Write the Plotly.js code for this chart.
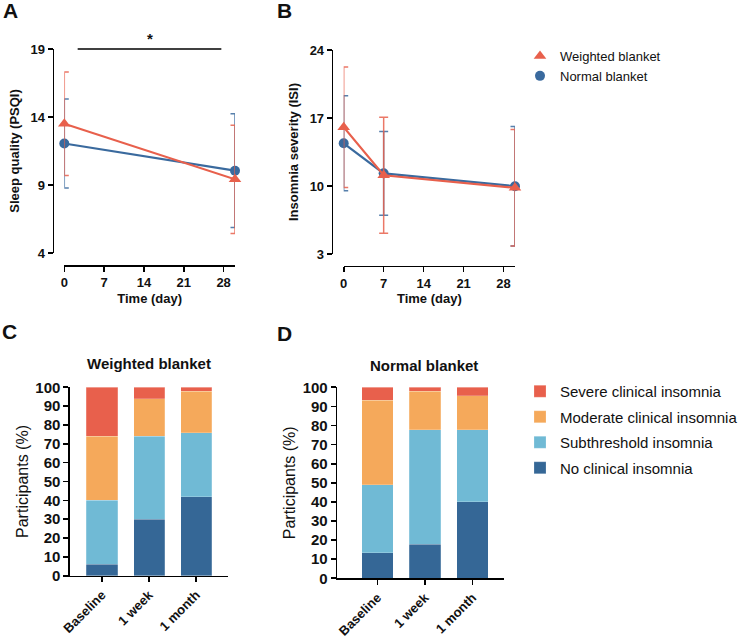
<!DOCTYPE html>
<html>
<head>
<meta charset="utf-8">
<script src="https://cdn.plot.ly/plotly-3.0.1.min.js"></script>
<style>html,body{margin:0;padding:0;background:#fff;}#chart{width:744px;height:640px;}</style>
</head>
<body>
<div id="chart"></div>
<script>
// ---- Data ----
const daysA = [0, 30];
const psqiWeighted = [13.5, 9.42];
const psqiWeightedErr = [3.8, 3.98];
const psqiNormal = [12.05, 10.05];
const psqiNormalErr = [3.27, 4.18];

const daysB = [0, 7, 30];
const isiWeighted = [16.05, 11.1, 9.82];
const isiWeightedErr = [6.2, 5.97, 6.0];
const isiNormal = [14.4, 11.3, 9.98];
const isiNormalErr = [4.9, 4.3, 6.15];

const timeTicks = [0, 7, 14, 21, 28];
const stages = ['Baseline', '1 week', '1 month'];
const levels = ['No clinical insomnia', 'Subthreshold insomnia', 'Moderate clinical insomnia', 'Severe clinical insomnia'];
const weightedNone = [6, 30, 42];
const weightedSub = [34, 44, 34];
const weightedMod = [34, 20, 22];
const weightedSev = [26, 6, 2];
const normalNone = [13.3, 17.8, 40];
const normalSub = [35.6, 60, 37.8];
const normalMod = [44.4, 20, 17.8];
const normalSev = [6.7, 2.2, 4.4];

// ---- Styles ----
const RED = '#E8604C', BLUE = '#3A6A9E';
const RED_ERR = 'rgba(232,96,76,0.85)', BLUE_ERR = 'rgba(58,106,158,0.85)';
const levelColors = ['#356796', '#70BAD5', '#F5A95B', '#E8604C'];
const FONT = 'Liberation Sans, Arial, sans-serif';
const W = 744, H = 640;
const px = v => v / W;
const py = v => 1 - v / H;

function lineTrace(x, y, err, color, errColor, symbol, xa, ya, size) {
  return {
    x: x, y: y, xaxis: xa, yaxis: ya, type: 'scatter', mode: 'lines+markers',
    line: {color: color, width: 2.2},
    marker: {color: color, symbol: symbol, size: size},
    error_y: {type: 'data', array: err, visible: true, color: errColor, thickness: 1.5, width: 4.5},
    cliponaxis: false, showlegend: false, hoverinfo: 'x+y'
  };
}

const traces = [
  lineTrace(daysA, psqiNormal, psqiNormalErr, BLUE, BLUE_ERR, 'circle', 'x', 'y', 10),
  lineTrace(daysA, psqiWeighted, psqiWeightedErr, RED, RED_ERR, 'triangle-up', 'x', 'y', 11),
  lineTrace(daysB, isiNormal, isiNormalErr, BLUE, BLUE_ERR, 'circle', 'x2', 'y2', 10),
  lineTrace(daysB, isiWeighted, isiWeightedErr, RED, RED_ERR, 'triangle-up', 'x2', 'y2', 11),
  // legend-only entries (marker only)
  {x: [null], y: [null], type: 'scatter', mode: 'markers', name: 'Weighted blanket',
   marker: {color: RED, symbol: 'triangle-up', size: 11}, legend: 'legend', xaxis: 'x2', yaxis: 'y2'},
  {x: [null], y: [null], type: 'scatter', mode: 'markers', name: 'Normal blanket',
   marker: {color: BLUE, symbol: 'circle', size: 10}, legend: 'legend', xaxis: 'x2', yaxis: 'y2'}
];

const weightedSeries = [weightedNone, weightedSub, weightedMod, weightedSev];
const normalSeries = [normalNone, normalSub, normalMod, normalSev];
weightedSeries.forEach((vals, i) => {
  traces.push({x: stages, y: vals, type: 'bar', xaxis: 'x3', yaxis: 'y3', name: levels[i],
    marker: {color: levelColors[i], line: {width: 0.6, color: 'rgba(255,255,255,0.35)'}}, width: 0.66,
    legend: 'legend2', legendgroup: 'g' + i, legendrank: 4 - i, showlegend: true});
});
normalSeries.forEach((vals, i) => {
  traces.push({x: stages, y: vals, type: 'bar', xaxis: 'x4', yaxis: 'y4', name: levels[i],
    marker: {color: levelColors[i], line: {width: 0.6, color: 'rgba(255,255,255,0.35)'}}, width: 0.66,
    legend: 'legend2', legendgroup: 'g' + i, legendrank: 4 - i, showlegend: false});
});

const tickFont = {family: FONT, size: 13, color: '#111', weight: 'bold'};
const barTickFont = {family: FONT, size: 15, color: '#111', weight: 'bold'};
const catTickFont = {family: FONT, size: 13, color: '#111', weight: 'bold'};
const axisCommon = {
  showgrid: false, zeroline: false, showline: true, linecolor: '#000', linewidth: 1.6,
  ticks: 'outside', ticklen: 5, tickwidth: 1.6, tickcolor: '#000', tickfont: tickFont,
  fixedrange: true
};
function timeAxis(domain, pos) {
  return Object.assign({}, axisCommon, {
    domain: domain, anchor: 'free', position: pos, range: [0, 30],
    tickvals: timeTicks, ticktext: timeTicks.map(String),
    title: {text: 'Time (day)', font: {family: FONT, size: 13, color: '#111', weight: 'bold'}, standoff: 4}
  });
}

const layout = {
  width: W, height: H,
  margin: {l: 0, r: 0, t: 0, b: 0},
  paper_bgcolor: '#fff', plot_bgcolor: 'rgba(0,0,0,0)',
  font: {family: FONT, color: '#111'},
  barmode: 'stack',
  showlegend: true,
  xaxis: timeAxis([px(64.3), px(235)], py(265)),
  yaxis: Object.assign({}, axisCommon, {
    domain: [py(253), py(49)], anchor: 'free', position: px(52.5), range: [4, 19],
    tickvals: [4, 9, 14, 19],
    title: {text: 'Sleep quality (PSQI)', font: {family: FONT, size: 13, color: '#111', weight: 'bold'}, standoff: 6}
  }),
  xaxis2: timeAxis([px(343.7), px(515)], py(265.7)),
  yaxis2: Object.assign({}, axisCommon, {
    domain: [py(254), py(50)], anchor: 'free', position: px(331.7), range: [3, 24],
    tickvals: [3, 10, 17, 24],
    title: {text: 'Insomnia severity (ISI)', font: {family: FONT, size: 13, color: '#111', weight: 'bold'}, standoff: 6}
  }),
  xaxis3: Object.assign({}, axisCommon, {
    domain: [px(70), px(227.7)], anchor: 'y3', type: 'category', range: [-0.68, 2.67],
    tickangle: -45, tickfont: catTickFont
  }),
  yaxis3: Object.assign({}, axisCommon, {
    domain: [py(575.7), py(387.3)], anchor: 'x3', range: [0, 100], dtick: 10, tickfont: barTickFont,
    title: {text: 'Participants (%)', font: {family: FONT, size: 16, color: '#111'}, standoff: 3}
  }),
  xaxis4: Object.assign({}, axisCommon, {
    domain: [px(337.3), px(504.3)], anchor: 'y4', type: 'category', range: [-0.846, 2.67],
    tickangle: -45, tickfont: catTickFont
  }),
  yaxis4: Object.assign({}, axisCommon, {
    domain: [py(578.3), py(387.3)], anchor: 'x4', range: [0, 100], dtick: 10, tickfont: barTickFont,
    title: {text: 'Participants (%)', font: {family: FONT, size: 16, color: '#111'}, standoff: 3}
  }),
  legend: {
    x: px(520), y: py(41), xanchor: 'left', yanchor: 'top',
    font: {family: FONT, size: 13, color: '#111'}, bgcolor: 'rgba(0,0,0,0)',
    itemwidth: 30, tracegroupgap: 0
  },
  legend2: {
    x: px(520), y: py(375), xanchor: 'left', yanchor: 'top',
    font: {family: FONT, size: 15, color: '#111'}, bgcolor: 'rgba(0,0,0,0)',
    traceorder: 'grouped', tracegroupgap: 3, itemwidth: 30
  },
  shapes: [
    {type: 'line', xref: 'x', yref: 'y domain', x0: 2.35, x1: 27.6, y0: 1, y1: 1,
     line: {color: '#000', width: 1.5}}
  ],
  annotations: [
    {text: '<b>A</b>', xref: 'paper', yref: 'paper', x: px(1), y: py(-3), xanchor: 'left', yanchor: 'top', showarrow: false, font: {family: FONT, size: 21, color: '#111'}},
    {text: '<b>B</b>', xref: 'paper', yref: 'paper', x: px(275), y: py(-3), xanchor: 'left', yanchor: 'top', showarrow: false, font: {family: FONT, size: 21, color: '#111'}},
    {text: '<b>C</b>', xref: 'paper', yref: 'paper', x: px(0), y: py(318), xanchor: 'left', yanchor: 'top', showarrow: false, font: {family: FONT, size: 21, color: '#111'}},
    {text: '<b>D</b>', xref: 'paper', yref: 'paper', x: px(275), y: py(320), xanchor: 'left', yanchor: 'top', showarrow: false, font: {family: FONT, size: 21, color: '#111'}},
    {text: '<b>*</b>', xref: 'x', yref: 'y domain', x: 15, y: 1, yanchor: 'bottom', yshift: 0, showarrow: false, font: {family: FONT, size: 15, color: '#111'}},
    {text: '<b>Weighted blanket</b>', xref: 'x3 domain', yref: 'paper', x: 0.5, y: py(363), xanchor: 'center', yanchor: 'middle', showarrow: false, font: {family: FONT, size: 15, color: '#111'}},
    {text: '<b>Normal blanket</b>', xref: 'x4 domain', yref: 'paper', x: 0.52, y: py(365), xanchor: 'center', yanchor: 'middle', showarrow: false, font: {family: FONT, size: 15, color: '#111'}}
  ]
};

Plotly.newPlot('chart', traces, layout, {displayModeBar: false, staticPlot: true});
</script>
</body>
</html>
